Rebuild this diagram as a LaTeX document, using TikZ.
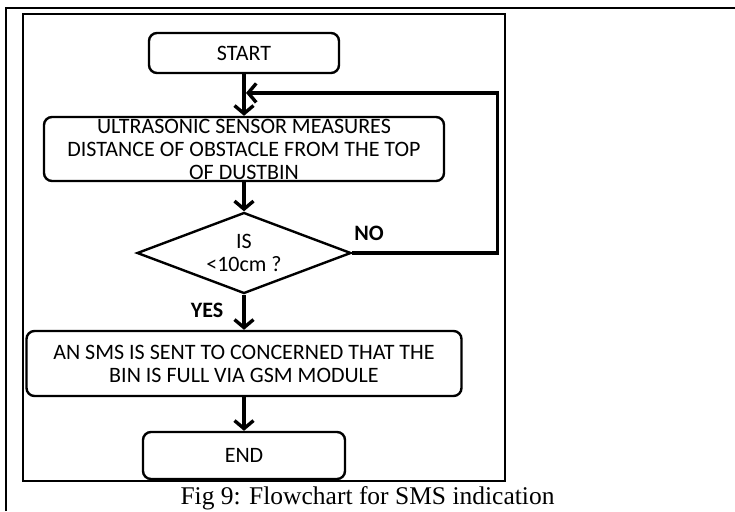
\documentclass[tikz,border=0pt]{standalone}
\usepackage{fontspec}
\setmainfont{Liberation Serif}
\newfontfamily\boxfont{Carlito}
\usetikzlibrary{arrows.meta,shapes.geometric,positioning}

\begin{document}
\begin{tikzpicture}[x=1pt, y=-1pt, node distance=96pt, line width=2.4pt,
  every node/.style={font=\boxfont\fontsize{22}{23}\selectfont},
  flowbox/.style={rectangle, rounded corners=8pt, draw=black, align=center, inner sep=0pt},
  flowline/.style={line width=3.4pt, -{Straight Barb[length=8pt,width=19pt]}}]
  \useasboundingbox (0,0) rectangle (735,511);
  % table cell and figure frame
  \draw (6,511) -- (6,8) -- (735,8);
  \draw (23,14) rectangle (505,481);

  \node[flowbox, minimum width=190pt, minimum height=40pt] at (244,53) (start) {START};
  \node[flowbox, minimum width=400pt, minimum height=64pt, inner ysep=-2pt, below of=start] (sensor)
    {ULTRASONIC SENSOR MEASURES\\DISTANCE OF OBSTACLE FROM THE TOP\\OF DUSTBIN};
  \node[diamond, draw=black, aspect=2.64, minimum width=214pt, minimum height=81pt,
    inner sep=0pt, align=center, below of=sensor, node distance=104pt] (check) {IS\\<10cm ?};
  \node[flowbox, minimum width=435pt, minimum height=65pt, below of=check, node distance=110.5pt] (sms)
    {AN SMS IS SENT TO CONCERNED THAT THE\\BIN IS FULL VIA GSM MODULE};
  \node[flowbox, minimum width=202pt, minimum height=47pt, below of=sms, node distance=92pt] (end) {END};

  \node[font=\boxfont\bfseries\fontsize{22}{23}\selectfont] at (369,233) (no) {NO};
  \node[font=\boxfont\bfseries\fontsize{22}{23}\selectfont] at (207,310) (yes) {YES};

  \draw[flowline] (start)--(sensor) coordinate[pos=0.45] (join);
  \draw[flowline] (sensor)--(check);
  \draw[flowline] (check)--(sms);
  \draw[flowline] (sms)--(end);
  \draw[flowline] (check.east) -- ++(145,0) |- ([xshift=2pt]join);

  \node[font=\fontsize{25.5}{28}\selectfont, anchor=base] at (367.5,504) (caption)
    {Fig 9: Flowchart for SMS indication};
\end{tikzpicture}
\end{document}
